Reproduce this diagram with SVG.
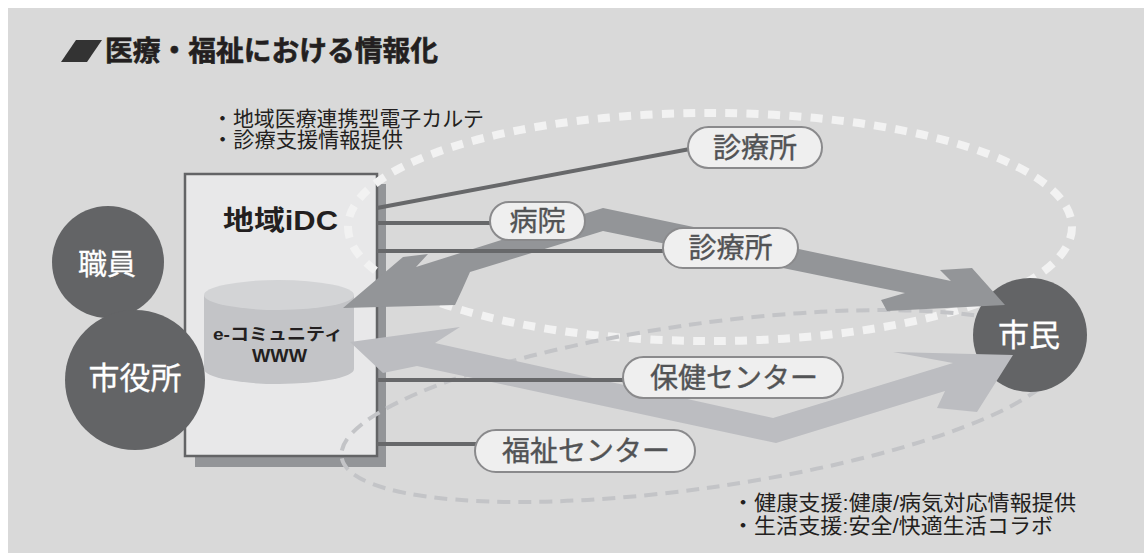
<svg xmlns="http://www.w3.org/2000/svg" width="1144" height="553" viewBox="0 0 1144 553">
<style>
text{font-family:"Liberation Sans","Noto Sans CJK JP",sans-serif}
.bul{font-size:21px;fill:#231f20}
.pill rect{fill:#efefef;stroke:#8a8a8c;stroke-width:2}
.pill text{font-size:28px;fill:#525355;stroke:#525355;stroke-width:0.4;text-anchor:middle;dominant-baseline:central}
.circ{fill:#636466}
.ctext{fill:#ffffff;stroke:#ffffff;stroke-width:0.3;text-anchor:middle;dominant-baseline:central}
.link{stroke:#67686a;stroke-width:4;fill:none}
</style>
<rect x="8" y="8" width="1136" height="545" fill="#d9d9d9"/>
<g id="title">
<polygon points="76,40 102,40 87,62 61,62" fill="#333333"/>
<text x="105" y="61" font-size="28" font-weight="bold" fill="#231f20" stroke="#231f20" stroke-width="0.6" textLength="333" lengthAdjust="spacingAndGlyphs">医療・福祉における情報化</text>
</g>
<g id="note-top">
<text class="bul" x="212" y="126" textLength="272" lengthAdjust="spacingAndGlyphs">・地域医療連携型電子カルテ</text>
<text class="bul" x="212" y="147" textLength="191" lengthAdjust="spacingAndGlyphs">・診療支援情報提供</text>
</g>
<g id="note-bottom">
<text class="bul" x="732" y="510" textLength="344" lengthAdjust="spacingAndGlyphs">・健康支援:健康/病気対応情報提供</text>
<text class="bul" x="732" y="533" textLength="321" lengthAdjust="spacingAndGlyphs">・生活支援:安全/快適生活コラボ</text>
</g>
<g id="idc">
<rect x="195" y="184" width="191" height="283" fill="#939598"/>
<rect x="185" y="174" width="192" height="282" fill="#e8e8e9" stroke="#636466" stroke-width="2.5"/>
<text x="223" y="230" font-size="27" font-weight="bold" fill="#231f20" textLength="115" lengthAdjust="spacingAndGlyphs">地域iDC</text>
<path d="M204,295 L204,369 A75,15 0 0 0 354,369 L354,295 Z" fill="#c3c4c7"/>
<ellipse cx="279" cy="295" rx="75" ry="15" fill="#d3d4d6"/>
<text x="278" y="340" font-size="17" font-weight="bold" fill="#231f20" text-anchor="middle" textLength="130" lengthAdjust="spacingAndGlyphs">e-コミュニティ</text>
<text x="279.5" y="362" font-size="19" font-weight="bold" fill="#231f20" text-anchor="middle" textLength="55" lengthAdjust="spacingAndGlyphs">WWW</text>
</g>
<g id="regions">
<ellipse cx="710" cy="227" rx="362" ry="114" fill="none" stroke="#f2f2f2" stroke-width="8" stroke-dasharray="12 9.3"/>
<ellipse cx="701" cy="406" rx="363" ry="82" transform="rotate(-8.1 701 406)" fill="none" stroke="#c3c4c7" stroke-width="4" stroke-dasharray="13 8"/>
</g>
<g id="shokuin">
<circle class="circ" cx="108" cy="262" r="56"/>
<text class="ctext" x="107" y="265" font-size="29">職員</text>
</g>
<g id="shiyakusho">
<circle class="circ" cx="135" cy="380" r="70"/>
<text class="ctext" x="135" y="378" font-size="31">市役所</text>
</g>
<g id="shimin">
<circle class="circ" cx="1030" cy="335" r="57"/>
<text class="ctext" x="1029" y="335" font-size="31">市民</text>
</g>
<g id="connectors">
<polygon id="arrow-hospital" fill="#939598" points="343,308 403,257 428,254 416,267 603,208 951,281 940,270 972,268 1005,305 887,311 881,300 905,293 603,231 470,272 462,290 455,305"/>
<polygon id="arrow-health" fill="#bcbdc1" points="350,342 460,327 435,343 773,418 953,363 893,352 1013,355 977,412 937,408 945,391 776,443 417,366 383,373"/>
<line class="link" x1="377" y1="208" x2="690" y2="149"/>
<line class="link" x1="377" y1="223" x2="492" y2="223"/>
<line class="link" x1="377" y1="251" x2="665" y2="251"/>
<line class="link" x1="377" y1="380" x2="625" y2="380"/>
<line class="link" x1="377" y1="444" x2="477" y2="444"/>
</g>
<g id="clinic1" class="pill">
<rect x="688" y="127" width="134" height="41" rx="20.5"/>
<text x="755" y="148">診療所</text>
</g>
<g id="hospital" class="pill">
<rect x="490" y="202" width="95" height="38" rx="19"/>
<text x="537.5" y="221">病院</text>
</g>
<g id="clinic2" class="pill">
<rect x="663" y="228" width="135" height="40" rx="20"/>
<text x="730.5" y="248.5">診療所</text>
</g>
<g id="health-center" class="pill">
<rect x="623" y="357" width="220" height="41" rx="20.5"/>
<text x="734" y="378">保健センター</text>
</g>
<g id="welfare-center" class="pill">
<rect x="475" y="430" width="220" height="42" rx="21"/>
<text x="586" y="451.5">福祉センター</text>
</g>
</svg>
